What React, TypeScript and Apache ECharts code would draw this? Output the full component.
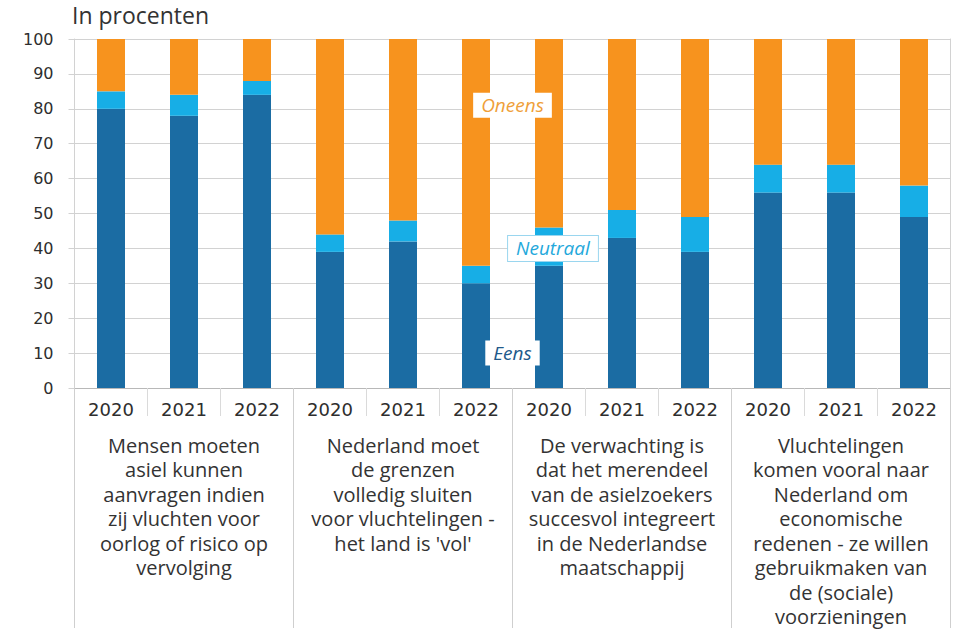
import React, { useEffect, useRef } from "react";
import * as echarts from "echarts";

const years = ["2020", "2021", "2022", "2020", "2021", "2022", "2020", "2021", "2022", "2020", "2021", "2022"];
const groups = [
  "Mensen moeten\nasiel kunnen\naanvragen indien\nzij vluchten voor\noorlog of risico op\nvervolging",
  "Nederland moet\nde grenzen\nvolledig sluiten\nvoor vluchtelingen -\nhet land is 'vol'",
  "De verwachting is\ndat het merendeel\nvan de asielzoekers\nsuccesvol integreert\nin de Nederlandse\nmaatschappij",
  "Vluchtelingen\nkomen vooral naar\nNederland om\neconomische\nredenen - ze willen\ngebruikmaken van\nde (sociale)\nvoorzieningen",
];
const eens = [80, 78, 84, 39, 42, 30, 35, 43, 39, 56, 56, 49];
const neutraal = [5, 6, 4, 5, 6, 5, 11, 8, 10, 8, 8, 9];
const oneens = [15, 16, 12, 56, 52, 65, 54, 49, 51, 36, 36, 42];
const yTicks = { min: 0, max: 100, interval: 10 };

const DARK = "#1b6ca3";
const LIGHT = "#17aee6";
const ORANGE = "#f7931e";
const TXT = "#333333";
const GRID = "#d2d2d2";

export default function App() {
  const ref = useRef<HTMLDivElement>(null);
  useEffect(() => {
    if (!ref.current) return;
    const chart = echarts.init(ref.current, undefined, { renderer: "svg" });
    const option: any = {
      animation: false,
      backgroundColor: "#ffffff",
      title: {
        text: "In procenten",
        left: 72,
        top: 3,
        padding: 0,
        textStyle: { fontFamily: "Open Sans", fontSize: 23, fontWeight: "normal", color: TXT },
      },
      grid: { left: 74.5, right: 15.5, top: 39, bottom: 239, containLabel: false },
      xAxis: [
        {
          type: "category",
          data: years,
          position: "bottom",
          axisLine: { show: true, lineStyle: { color: "#b8b8b8", width: 1 } },
          axisTick: { show: true, interval: 0, length: 28, lineStyle: { color: "#dadada" } },
          axisLabel: { interval: 0, margin: 12, fontFamily: "DejaVu Sans", fontSize: 18, color: "#2e2e2e" },
        },
        {
          type: "category",
          data: groups,
          position: "bottom",
          axisLine: { show: false },
          axisTick: { show: true, interval: 0, length: 240, lineStyle: { color: "#cfcfcf" } },
          axisLabel: {
            interval: 0,
            margin: 45,
            fontFamily: "Open Sans",
            fontSize: 20,
            lineHeight: 24.5,
            color: TXT,
            align: "center",
          },
        },
      ],
      yAxis: [
        {
          type: "value",
          min: yTicks.min,
          max: yTicks.max,
          interval: yTicks.interval,
          axisLine: { show: true, lineStyle: { color: GRID } },
          axisTick: { show: true, length: 6, lineStyle: { color: GRID } },
          axisLabel: { margin: 21, fontFamily: "DejaVu Sans", fontSize: 16, color: "#2e2e2e" },
          splitLine: { show: true, lineStyle: { color: GRID, width: 1 } },
        },
        {
          type: "value",
          position: "right",
          min: yTicks.min,
          max: yTicks.max,
          interval: yTicks.interval,
          axisLine: { show: true, lineStyle: { color: GRID } },
          axisTick: { show: false },
          axisLabel: { show: false },
          splitLine: { show: false },
        },
      ],
      series: [
        { name: "Eens", type: "bar", stack: "a", data: eens, barWidth: 28, itemStyle: { color: DARK } },
        { name: "Neutraal", type: "bar", stack: "a", data: neutraal, barWidth: 28, itemStyle: { color: LIGHT } },
        { name: "Oneens", type: "bar", stack: "a", data: oneens, barWidth: 28, itemStyle: { color: ORANGE } },
      ],
    };
    chart.setOption(option);

    const half = 36.5;
    const pO = chart.convertToPixel({ xAxisIndex: 0, yAxisIndex: 0 }, [5, 81]) as number[];
    const pN = chart.convertToPixel({ xAxisIndex: 0, yAxisIndex: 0 }, [6, 40]) as number[];
    const pE = chart.convertToPixel({ xAxisIndex: 0, yAxisIndex: 0 }, [5, 10]) as number[];
    const lbl = (text: string, x: number, y: number, fill: string, border?: string) => ({
      type: "text",
      x,
      y,
      z: 100,
      style: {
        text,
        x: 0,
        y: 0,
        align: "center",
        verticalAlign: "middle",
        font: "italic 19px 'Open Sans'",
        fill,
        backgroundColor: "#ffffff",
        borderColor: border || "transparent",
        borderWidth: border ? 1 : 0,
        padding: [3, 8, 3, 8],
      },
    });
    chart.setOption({
      graphic: [
        lbl("Oneens", pO[0] + half, pO[1], "#ef9f3a"),
        lbl("Neutraal", pN[0] + 4, pN[1], "#23a8db", "#9ad6ef"),
        lbl("Eens", pE[0] + half, pE[1], "#21598a"),
      ],
    });

    return () => chart.dispose();
  }, []);
  return <div ref={ref} style={{ position: "absolute", left: 0, top: 0, width: 966, height: 629 }} />;
}
